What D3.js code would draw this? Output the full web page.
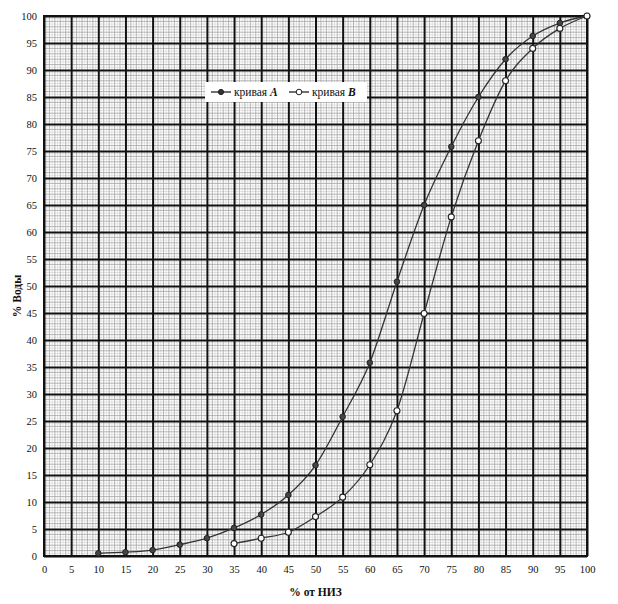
<!DOCTYPE html>
<html>
<head>
<meta charset="utf-8">
<script src="https://cdn.jsdelivr.net/npm/d3@7"></script>
<style>
  body { margin: 0; background: #fff; }
  svg text { font-family: "Liberation Serif", "DejaVu Serif", serif; fill: #111; }
</style>
</head>
<body>
<svg id="chart" width="618" height="604"></svg>
<script>
// ---- data ----
var xTicks = [0, 5, 10, 15, 20, 25, 30, 35, 40, 45, 50, 55, 60, 65, 70, 75, 80, 85, 90, 95, 100];
var yTicks = [0, 5, 10, 15, 20, 25, 30, 35, 40, 45, 50, 55, 60, 65, 70, 75, 80, 85, 90, 95, 100];

var curveAX = [10, 15, 20, 25, 30, 35, 40, 45, 50, 55, 60, 65, 70, 75, 80, 85, 90, 95, 100];
var curveAY = [0.5, 0.7, 1.1, 2.1, 3.3, 5.2, 7.7, 11.3, 16.8, 25.8, 35.8, 50.8, 65, 75.8, 85, 92, 96.3, 98.7, 100];

var curveBX = [35, 40, 45, 50, 55, 60, 65, 70, 75, 80, 85, 90, 95, 100];
var curveBY = [2.3, 3.3, 4.4, 7.3, 10.9, 16.9, 26.9, 44.9, 62.8, 76.9, 88, 94, 97.7, 100];

var legendNames = ['A', 'B'];

// ---- layout ----
var svg = d3.select('#chart');
var margin = { l: 44, t: 16, r: 31, b: 48 };
var W = 618, H = 604;

var x = d3.scaleLinear().domain([0, 100]).range([margin.l, W - margin.r]);
var y = d3.scaleLinear().domain([0, 100]).range([H - margin.b, margin.t]);

var grid = svg.append('g');

// fine grid: half units light, whole units a bit darker
function drawMinor(values, color, width) {
    grid.append('g').selectAll('line').data(values).enter().append('line')
        .attr('x1', function (d) { return x(d); }).attr('x2', function (d) { return x(d); })
        .attr('y1', y(0)).attr('y2', y(100))
        .attr('stroke', color).attr('stroke-width', width);
    grid.append('g').selectAll('line').data(values).enter().append('line')
        .attr('y1', function (d) { return y(d); }).attr('y2', function (d) { return y(d); })
        .attr('x1', x(0)).attr('x2', x(100))
        .attr('stroke', color).attr('stroke-width', width);
}
drawMinor(d3.range(0.5, 100, 1), '#c8c8c8', 0.5);
drawMinor(d3.range(0, 101, 1).filter(function (v) { return v % 5 !== 0; }), '#999', 0.7);

// major grid (every 5 units) through the axes
var xAxis = d3.axisBottom(x).tickValues(xTicks).tickSize(-(y(0) - y(100))).tickPadding(10);
var yAxis = d3.axisLeft(y).tickValues(yTicks).tickSize(-(x(100) - x(0))).tickPadding(7);

var gx = svg.append('g').attr('transform', 'translate(0,' + y(0) + ')').call(xAxis);
var gy = svg.append('g').attr('transform', 'translate(' + x(0) + ',0)').call(yAxis);

[gx, gy].forEach(function (g) {
    g.select('.domain').remove();
    g.selectAll('.tick line').attr('stroke', '#111').attr('stroke-width', 2);
    g.selectAll('.tick text').attr('font-size', 10.5).attr('fill', '#222')
        .style('font-family', '"Liberation Serif", serif');
});

// frame
svg.append('rect')
    .attr('x', x(0)).attr('y', y(100))
    .attr('width', x(100) - x(0)).attr('height', y(0) - y(100))
    .attr('fill', 'none').attr('stroke', '#111').attr('stroke-width', 2);

// ---- curves ----
var line = d3.line()
    .x(function (d) { return x(d[0]); })
    .y(function (d) { return y(d[1]); })
    .curve(d3.curveMonotoneX);

var ptsA = curveAX.map(function (v, i) { return [v, curveAY[i]]; });
var ptsB = curveBX.map(function (v, i) { return [v, curveBY[i]]; });

svg.append('path').datum(ptsA).attr('d', line)
    .attr('fill', 'none').attr('stroke', '#333').attr('stroke-width', 1.3);
svg.append('path').datum(ptsB).attr('d', line)
    .attr('fill', 'none').attr('stroke', '#333').attr('stroke-width', 1.3);

svg.selectAll('.ptA').data(ptsA).enter().append('circle')
    .attr('cx', function (d) { return x(d[0]); })
    .attr('cy', function (d) { return y(d[1]); })
    .attr('r', 2.8).attr('fill', '#444').attr('stroke', '#222').attr('stroke-width', 1);

svg.selectAll('.ptB').data(ptsB).enter().append('circle')
    .attr('cx', function (d) { return x(d[0]); })
    .attr('cy', function (d) { return y(d[1]); })
    .attr('r', 3).attr('fill', '#fff').attr('stroke', '#222').attr('stroke-width', 1.1);

// ---- legend ----
var lg = svg.append('g').attr('transform', 'translate(205,82)');
lg.append('rect').attr('width', 162).attr('height', 20).attr('fill', '#fff');

legendNames.forEach(function (name, i) {
    var ox = 6 + i * 78;
    var item = lg.append('g').attr('transform', 'translate(' + ox + ',10)');
    item.append('line').attr('x1', 0).attr('x2', 20).attr('y1', 0).attr('y2', 0)
        .attr('stroke', '#222').attr('stroke-width', 1.3);
    item.append('circle').attr('cx', 10).attr('cy', 0).attr('r', i === 0 ? 2.6 : 2.8)
        .attr('fill', i === 0 ? '#333' : '#fff').attr('stroke', '#222').attr('stroke-width', 1);
    var t = item.append('text').attr('x', 23).attr('y', 4).attr('font-size', 11.5);
    t.append('tspan').text('кривая ');
    t.append('tspan').attr('font-style', 'italic').attr('font-weight', 'bold').text(name);
});

// ---- axis titles ----
svg.append('text')
    .attr('x', (x(0) + x(100)) / 2).attr('y', 596)
    .attr('text-anchor', 'middle').attr('font-size', 11.5).attr('font-weight', 'bold')
    .text('% от НИЗ');

svg.append('text')
    .attr('transform', 'translate(21,' + 296 + ') rotate(-90)')
    .attr('text-anchor', 'middle').attr('font-size', 11.5).attr('font-weight', 'bold')
    .text('% Воды');
</script>
</body>
</html>
